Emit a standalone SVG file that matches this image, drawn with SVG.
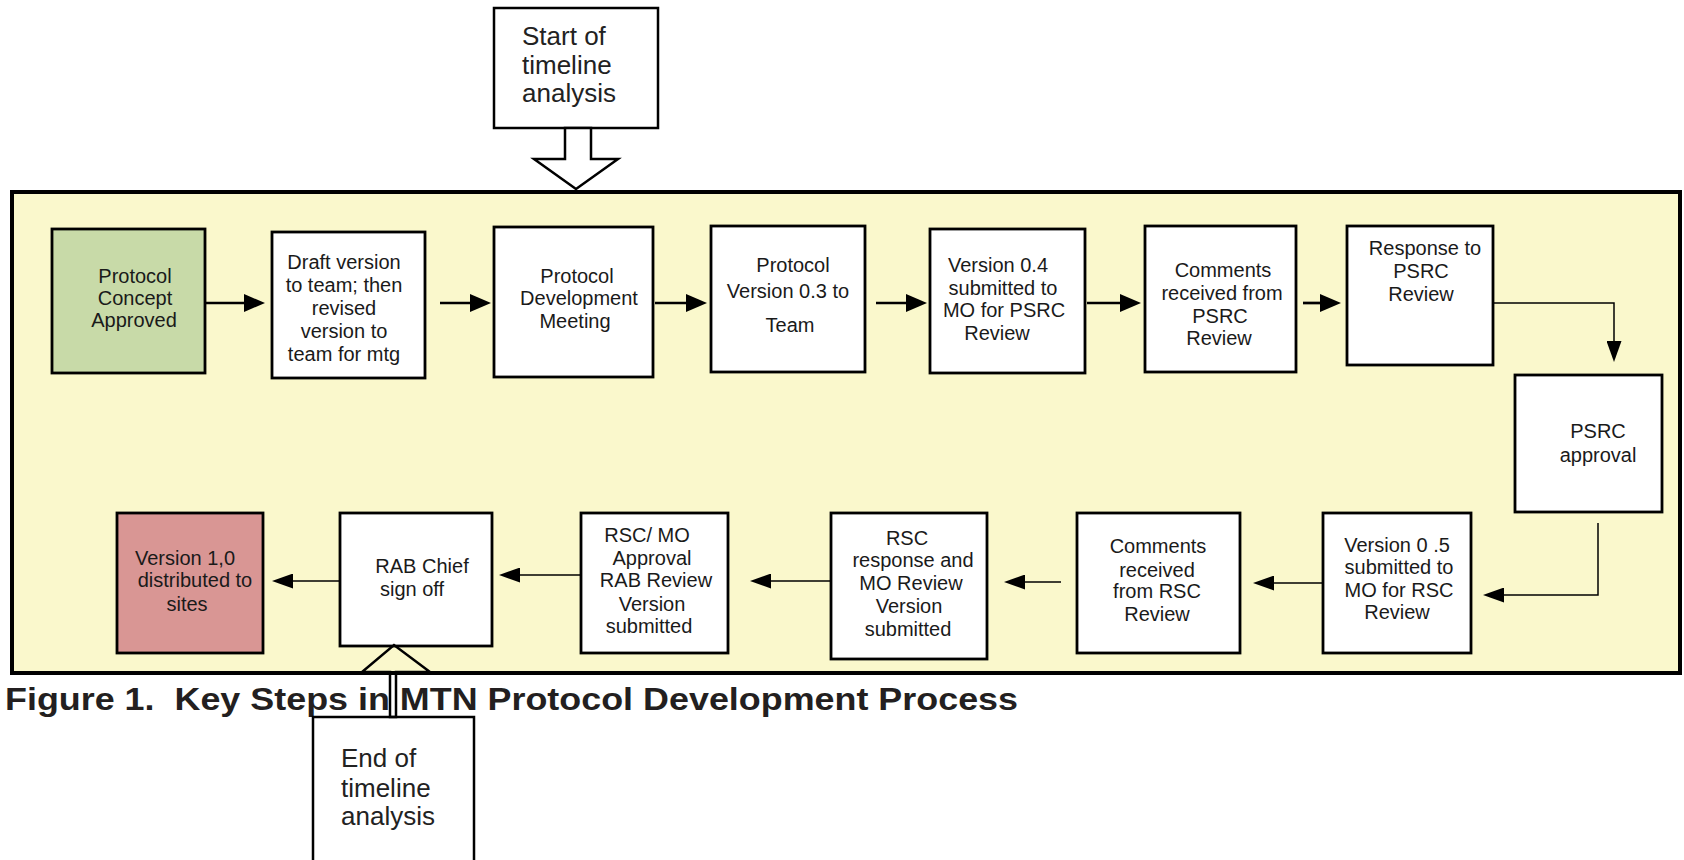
<svg xmlns="http://www.w3.org/2000/svg" width="1684" height="860" viewBox="0 0 1684 860">
<style>
.t{font-family:"Liberation Sans",Arial,sans-serif;font-size:20px;fill:#1a1a1a;text-anchor:middle}
.big{font-family:"Liberation Sans",Arial,sans-serif;font-size:26px;fill:#222}
.cap{font-family:"Liberation Sans",Arial,sans-serif;font-size:32px;font-weight:bold;fill:#231f20}
.box{fill:#fff;stroke:#000;stroke-width:2.8}
.thick{fill:none;stroke:#000;stroke-width:2.7}
.thin{fill:none;stroke:#000;stroke-width:1.5}
</style>
<defs>
<marker id="hk" viewBox="0 0 21 18" refX="11" refY="9" markerWidth="21" markerHeight="18" markerUnits="userSpaceOnUse" orient="auto"><path d="M0,0 L21,9 L0,18 z" fill="#000"/></marker>
<marker id="hn" viewBox="0 0 21 15" refX="11" refY="7.5" markerWidth="21" markerHeight="15" markerUnits="userSpaceOnUse" orient="auto"><path d="M0,0 L21,7.5 L0,15 z" fill="#000"/></marker>
</defs>
<rect width="1684" height="860" fill="#fff"/>
<g id="frame"><rect x="12" y="192" width="1668" height="481" fill="#faf8cc" stroke="#000" stroke-width="4"/></g>

<g id="start">
<rect x="494" y="8" width="164" height="120" fill="#fff" stroke="#000" stroke-width="2.5"/>
<polygon points="565,128 565,159 534,159 576,189 618,159 591,159 591,128" fill="#fff" stroke="#000" stroke-width="2.5" stroke-linejoin="miter"/>
<text class="big" x="522" y="45">Start of</text>
<text class="big" x="522" y="74">timeline</text>
<text class="big" x="522" y="102">analysis</text>
</g>

<g id="n1"><rect x="52" y="229" width="153" height="144" fill="#c8daa8" stroke="#000" stroke-width="2.8"/>
<text class="t" x="135" y="283">Protocol</text><text class="t" x="135" y="305">Concept</text><text class="t" x="134" y="327">Approved</text></g>

<g id="n2"><rect class="box" x="272" y="232" width="153" height="146"/>
<text class="t" x="344" y="269">Draft version</text><text class="t" x="344" y="292">to team; then</text><text class="t" x="344" y="315">revised</text><text class="t" x="344" y="338">version to</text><text class="t" x="344" y="361">team for mtg</text></g>

<g id="n3"><rect class="box" x="494" y="227" width="159" height="150"/>
<text class="t" x="577" y="283">Protocol</text><text class="t" x="579" y="305">Development</text><text class="t" x="575" y="328">Meeting</text></g>

<g id="n4"><rect class="box" x="711" y="226" width="154" height="146"/>
<text class="t" x="793" y="272">Protocol</text><text class="t" x="788" y="298">Version 0.3 to</text><text class="t" x="790" y="332">Team</text></g>

<g id="n5"><rect class="box" x="930" y="229" width="155" height="144"/>
<text class="t" x="998" y="272">Version 0.4</text><text class="t" x="1003" y="295">submitted to</text><text class="t" x="1004" y="317">MO for PSRC</text><text class="t" x="997" y="340">Review</text></g>

<g id="n6"><rect class="box" x="1145" y="226" width="151" height="146"/>
<text class="t" x="1223" y="277">Comments</text><text class="t" x="1222" y="300">received from</text><text class="t" x="1220" y="323">PSRC</text><text class="t" x="1219" y="345">Review</text></g>

<g id="n7"><rect class="box" x="1347" y="226" width="146" height="139"/>
<text class="t" x="1425" y="255">Response to</text><text class="t" x="1421" y="278">PSRC</text><text class="t" x="1421" y="301">Review</text></g>

<g id="n8"><rect class="box" x="1515" y="375" width="147" height="137"/>
<text class="t" x="1598" y="438">PSRC</text><text class="t" x="1598" y="462">approval</text></g>

<g id="n9"><rect class="box" x="1323" y="513" width="148" height="140"/>
<text class="t" x="1397" y="552">Version 0 .5</text><text class="t" x="1399" y="574">submitted to</text><text class="t" x="1399" y="597">MO for RSC</text><text class="t" x="1397" y="619">Review</text></g>

<g id="n10"><rect class="box" x="1077" y="513" width="163" height="140"/>
<text class="t" x="1158" y="553">Comments</text><text class="t" x="1157" y="577">received</text><text class="t" x="1157" y="598">from RSC</text><text class="t" x="1157" y="621">Review</text></g>

<g id="n11"><rect class="box" x="831" y="513" width="156" height="146"/>
<text class="t" x="907" y="545">RSC</text><text class="t" x="913" y="567">response and</text><text class="t" x="911" y="590">MO Review</text><text class="t" x="909" y="613">Version</text><text class="t" x="908" y="636">submitted</text></g>

<g id="n12"><rect class="box" x="581" y="513" width="147" height="140"/>
<text class="t" x="647" y="542">RSC/ MO</text><text class="t" x="652" y="565">Approval</text><text class="t" x="656" y="587">RAB Review</text><text class="t" x="652" y="611">Version</text><text class="t" x="649" y="633">submitted</text></g>

<g id="n13"><rect class="box" x="340" y="513" width="152" height="133"/>
<text class="t" x="422" y="573">RAB Chief</text><text class="t" x="412" y="596">sign off</text></g>

<g id="n14"><rect x="117" y="513" width="146" height="140" fill="#d99694" stroke="#000" stroke-width="2.8"/>
<text class="t" x="185" y="565">Version 1,0</text><text class="t" x="195" y="587">distributed to</text><text class="t" x="187" y="611">sites</text></g>

<g id="connectors">
<path class="thick" d="M206,303 H255" marker-end="url(#hk)"/>
<path class="thick" d="M440,303 H481" marker-end="url(#hk)"/>
<path class="thick" d="M655,303 H697" marker-end="url(#hk)"/>
<path class="thick" d="M876,303 H917" marker-end="url(#hk)"/>
<path class="thick" d="M1087,303 H1131" marker-end="url(#hk)"/>
<path class="thick" d="M1303,303 H1331" marker-end="url(#hk)"/>
<path class="thin" d="M1493,303 H1614 V352" marker-end="url(#hn)"/>
<path class="thin" d="M1598,523 V595 H1493" marker-end="url(#hn)"/>
<path class="thin" d="M1323,583 H1263" marker-end="url(#hn)"/>
<path class="thin" d="M1061,582 H1014" marker-end="url(#hn)"/>
<path class="thin" d="M831,581 H760" marker-end="url(#hn)"/>
<path class="thin" d="M581,575 H509" marker-end="url(#hn)"/>
<path class="thin" d="M340,581 H282" marker-end="url(#hn)"/>
</g>

<text class="cap" x="5" y="710" textLength="1013" lengthAdjust="spacingAndGlyphs">Figure 1.&#160; Key Steps in MTN Protocol Development Process</text>

<g id="end">
<rect x="313" y="717" width="161" height="160" fill="#fff" stroke="#000" stroke-width="2.5"/>
<polygon points="390,717 390,672 362,672 394,645 430,672 396,672 396,717" fill="none" stroke="#000" stroke-width="2.5"/>
<text class="big" x="341" y="767">End of</text>
<text class="big" x="341" y="797">timeline</text>
<text class="big" x="341" y="825">analysis</text>
</g>
</svg>
